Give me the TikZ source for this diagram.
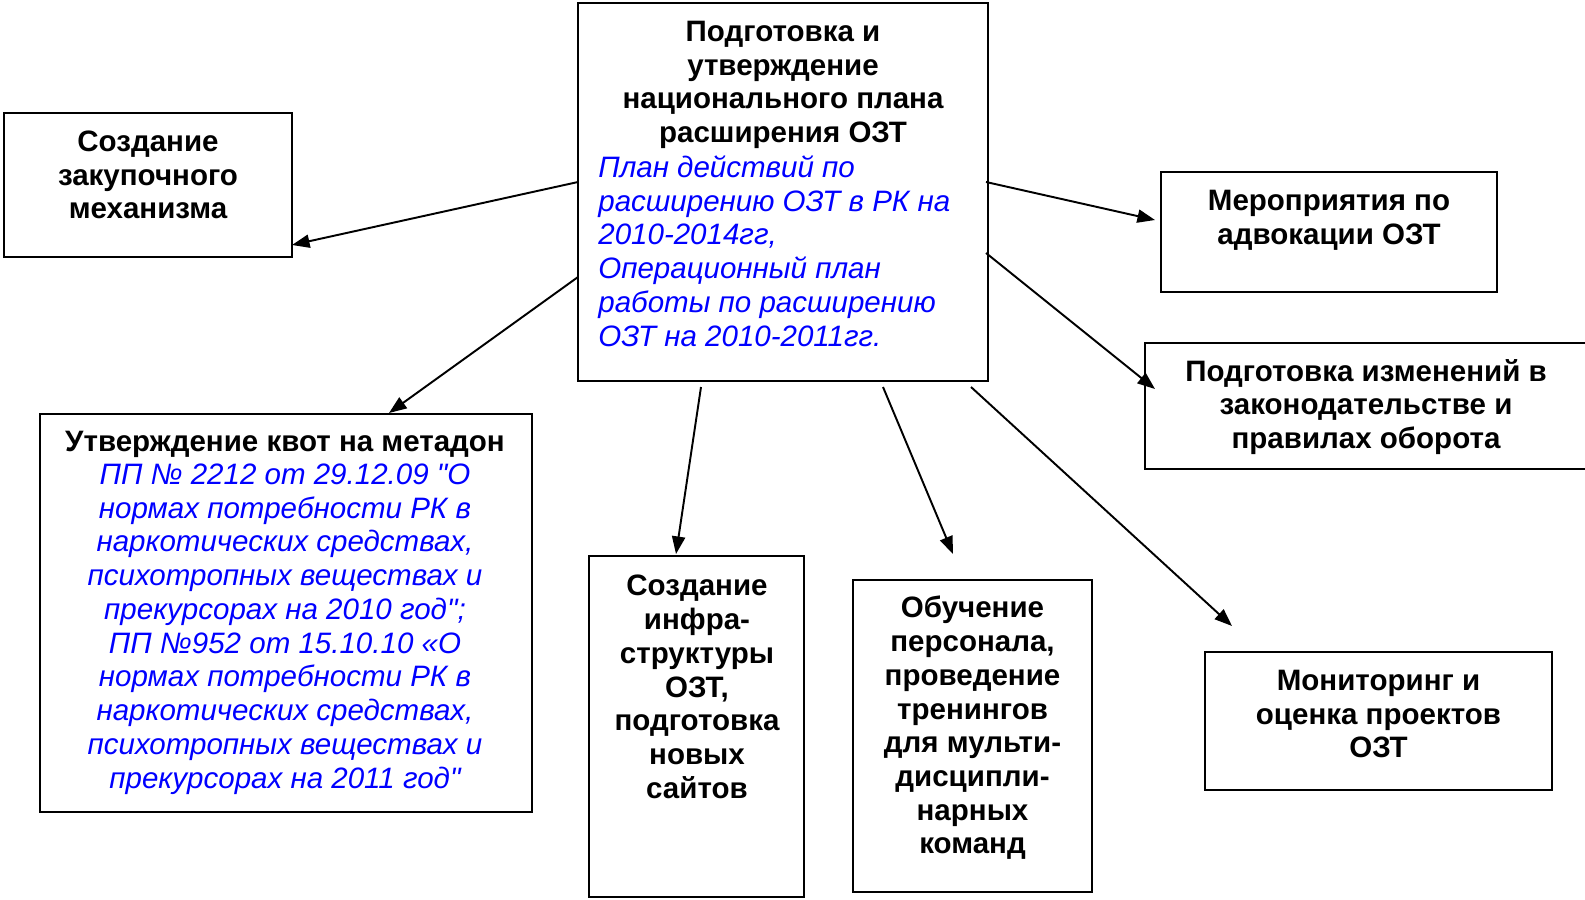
\documentclass[tikz,border=0pt]{standalone}
\usepackage{fontspec}
\setmainfont{Liberation Sans}
\usetikzlibrary{arrows.meta}

\begin{document}
\begin{tikzpicture}[x=0.02cm,y=-0.02cm,
    box/.style={draw,line width=1.1pt,inner sep=0pt},
    ttl/.style={font=\fontsize{16.8}{19.2}\selectfont\bfseries,align=center,inner sep=0pt},
    blu/.style={font=\fontsize{16.8}{19.2}\selectfont\itshape,text=blue,inner sep=0pt},
    arr/.style={-{Triangle[length=10pt,width=7.5pt]},line width=1.1pt}]
      \useasboundingbox (0,0) rectangle (1585,899);

      % boxes
      \node (plan) at (783,192) [box,minimum width=8.2cm,minimum height=7.56cm] {};
      \node (zak) at (148,185) [box,minimum width=5.76cm,minimum height=2.88cm] {};
      \node (kvot) at (286,613) [box,minimum width=9.84cm,minimum height=7.96cm] {};
      \node (mer) at (1329,232) [box,minimum width=6.72cm,minimum height=2.4cm] {};
      \node (izm) at (1370,406) [box,minimum width=9cm,minimum height=2.52cm] {};
      \node (infra) at (696.5,726.5) [box,minimum width=4.3cm,minimum height=6.82cm] {};
      \node (obuch) at (972.5,736) [box,minimum width=4.78cm,minimum height=6.24cm] {};
      \node (mon) at (1378.5,721) [box,minimum width=6.94cm,minimum height=2.76cm] {};

      % texts
      \node (planT) at (783,85) [ttl] {Подготовка и\\утверждение\\национального плана\\расширения ОЗТ};
      \node (planB) at (598,251) [blu,anchor=west,align=left] {План действий по\\расширению ОЗТ в РК на\\2010-2014гг,\\Операционный план\\работы по расширению\\ОЗТ на 2010-2011гг.};
      \node (zakT) at (148,175) [ttl] {Создание\\закупочного\\механизма};
      \node (kvotT) at (285,444) [ttl] {Утверждение квот на метадон};
      \node (kvotB) at (285,629) [blu,align=center] {ПП № 2212 от 29.12.09 \textquotedbl О\\нормах потребности РК в\\наркотических средствах,\\психотропных веществах и\\прекурсорах на 2010 год\textquotedbl;\\
        ПП №952 от 15.10.10 «О\\нормах потребности РК в\\наркотических средствах,\\психотропных веществах и\\прекурсорах на 2011 год\textquotedbl};
      \node (merT) at (1329,220) [ttl] {Мероприятия по\\адвокации ОЗТ};
      \node (izmT) at (1366,407) [ttl] {Подготовка изменений в\\законодательстве и\\правилах оборота};
      \node (infraT) at (697,687) [ttl] {Создание\\инфра-\\структуры\\ОЗТ,\\подготовка\\новых\\сайтов};
      \node (obuchT) at (972.5,728) [ttl] {Обучение\\персонала,\\проведение\\тренингов\\для мульти-\\дисципли-\\нарных\\команд};
      \node (monT) at (1378.5,714) [ttl] {Мониторинг и\\оценка проектов\\ОЗТ};

      % arrow ends
      \coordinate (s1) at (578,182);  \coordinate (e1) at (292,245);
      \coordinate (s2) at (578,277);  \coordinate (e2) at (389,413);
      \coordinate (s3) at (986,182);  \coordinate (e3) at (1155,220);
      \coordinate (s4) at (986,253);  \coordinate (e4) at (1155,389);
      \coordinate (s5) at (701,387);  \coordinate (e5) at (676,554);
      \coordinate (s6) at (883,387);  \coordinate (e6) at (953,554);
      \coordinate (s7) at (971,387);  \coordinate (e7) at (1232,626);

      \draw[arr] (s1) -- (e1);
      \draw[arr] (s2) -- (e2);
      \draw[arr] (s3) -- (e3);
      \draw[arr] (s4) -- (e4);
      \draw[arr] (s5) -- (e5);
      \draw[arr] (s6) -- (e6);
      \draw[arr] (s7) -- (e7);

\end{tikzpicture}
\end{document}
